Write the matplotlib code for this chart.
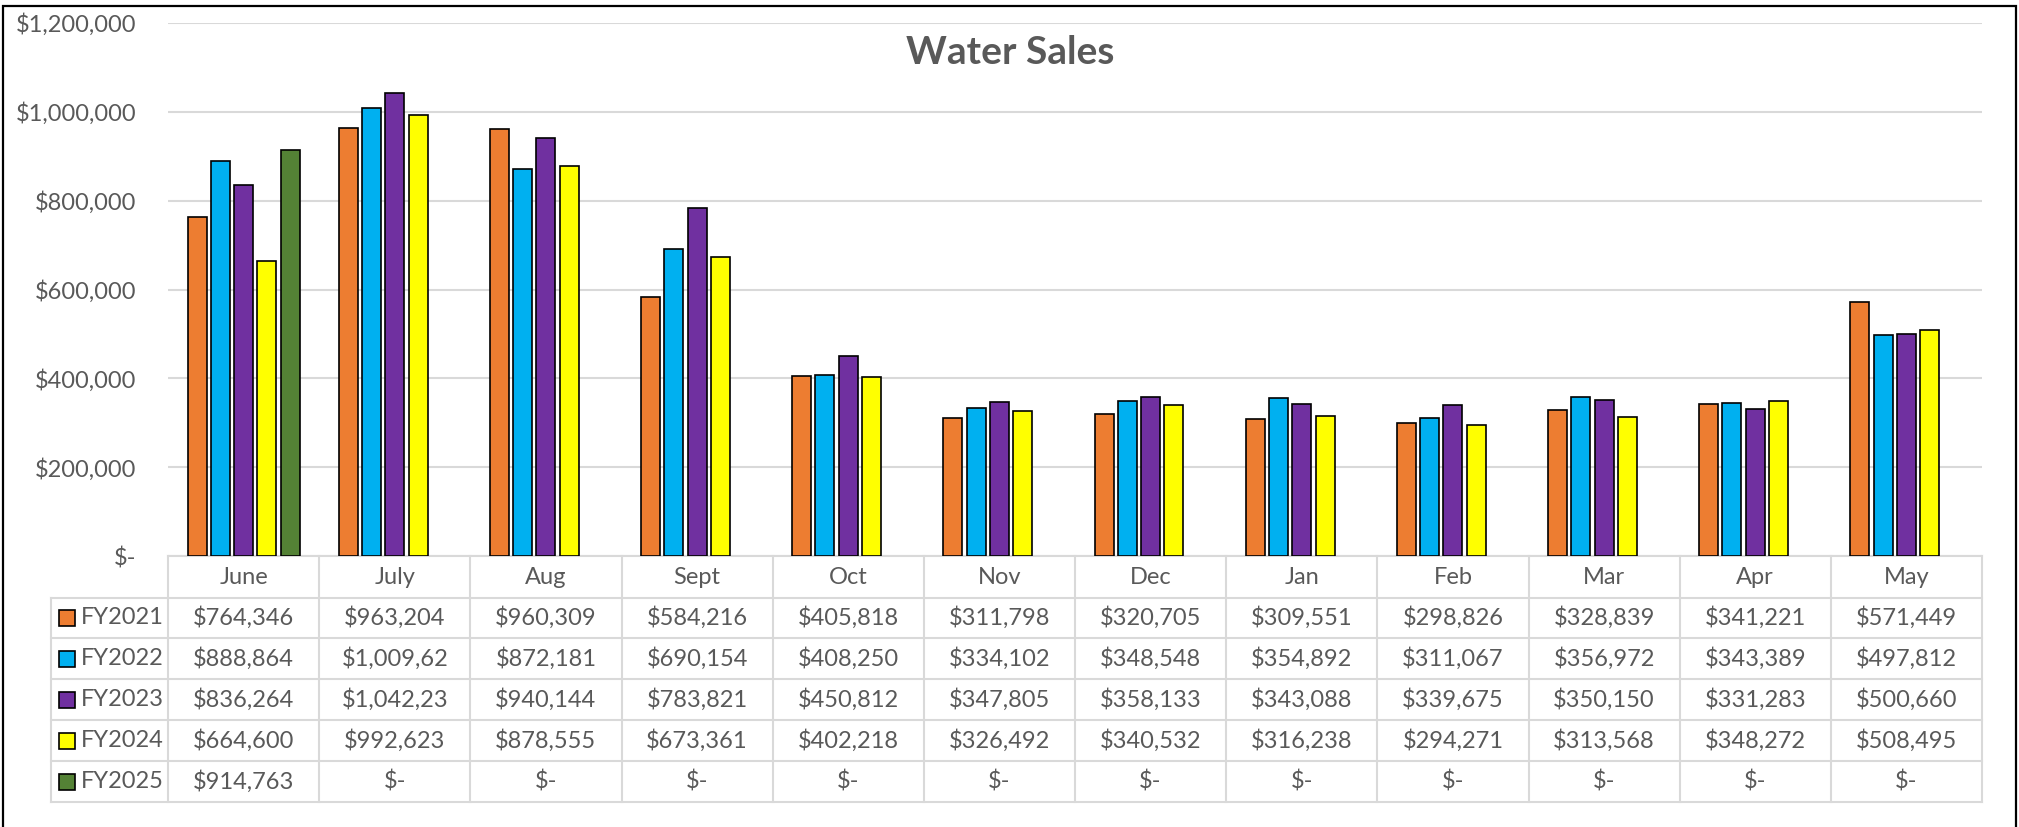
import numpy as np
import matplotlib.pyplot as plt
from matplotlib.patches import Rectangle

plt.rcParams['font.family'] = ['Lato', 'DejaVu Sans']

# data
months = ['June', 'July', 'Aug', 'Sept', 'Oct', 'Nov', 'Dec', 'Jan', 'Feb', 'Mar', 'Apr', 'May']
series = ['FY2021', 'FY2022', 'FY2023', 'FY2024', 'FY2025']
fy2021 = [764346, 963204, 960309, 584216, 405818, 311798, 320705, 309551, 298826, 328839, 341221, 571449]
fy2022 = [888864, 1009620, 872181, 690154, 408250, 334102, 348548, 354892, 311067, 356972, 343389, 497812]
fy2023 = [836264, 1042230, 940144, 783821, 450812, 347805, 358133, 343088, 339675, 350150, 331283, 500660]
fy2024 = [664600, 992623, 878555, 673361, 402218, 326492, 340532, 316238, 294271, 313568, 348272, 508495]
fy2025 = [914763, 0, 0, 0, 0, 0, 0, 0, 0, 0, 0, 0]
colors = ['#ED7D31', '#00B0F0', '#7030A0', '#FFFF00', '#548235']
yticks = [0, 200000, 400000, 600000, 800000, 1000000, 1200000]

data = [fy2021, fy2022, fy2023, fy2024, fy2025]
txt = '#595959'
grid = '#D9D9D9'
fs = 17


def money(v):
    if v == 0:
        return '$-'
    # the Excel cell clips anything wider than 9 characters
    return f'${v:,}'[:9]


W, H = 2019, 827
fig = plt.figure(figsize=(W / 100, H / 100), dpi=100)
# plot area in pixels: x 168..1982, y 23..556
px_l, px_r, px_t, px_b = 168, 1982, 23, 556
ax = fig.add_axes([px_l / W, 1 - px_b / H, (px_r - px_l) / W, (px_b - px_t) / H])

n = len(months)
x = np.arange(n)
slot = 0.154
bw = 0.126
for k, (name, vals) in enumerate(zip(series, data)):
    vals = np.array(vals, dtype=float)
    keep = vals > 0
    ax.bar(x[keep] + (k - 2) * slot, vals[keep], width=bw, color=colors[k],
           edgecolor='black', linewidth=1.2, zorder=3, label=name)

ax.set_xlim(-0.5, n - 0.5)
ax.set_ylim(0, 1200000)
ax.set_yticks(yticks)
ax.set_yticklabels(['$-' if t == 0 else f'${t:,}' for t in yticks])
ax.tick_params(axis='y', length=0, pad=23, labelsize=fs, labelcolor=txt)
ax.set_xticks([])
ax.grid(axis='y', color=grid, linewidth=1.5, zorder=0)
for s in ax.spines.values():
    s.set_visible(False)

# data table under the plot (x in data units, y in axes fraction)
tr = ax.get_xaxis_transform()
plot_h = px_b - px_t


def yax(py):
    return (px_b - py) / plot_h


def xdat(px):
    return (px - px_l) / (px_r - px_l) * n - 0.5


rows = [556, 598, 638, 679, 720, 761, 802]
left = xdat(51)
lkw = dict(color=grid, linewidth=1.5, transform=tr, clip_on=False, zorder=1)
ax.plot([-0.5, n - 0.5], [yax(rows[0])] * 2, **lkw)
for r in rows[1:]:
    ax.plot([left, n - 0.5], [yax(r)] * 2, **lkw)
for b in np.arange(n + 1) - 0.5:
    ax.plot([b, b], [yax(rows[0]), yax(rows[-1])], **lkw)
ax.plot([left, left], [yax(rows[1]), yax(rows[-1])], **lkw)

for i, m in enumerate(months):
    ax.text(i, yax((rows[0] + rows[1]) / 2), m, transform=tr, ha='center', va='center',
            fontsize=fs, color=txt, clip_on=False)

key_px = 16
for k, (name, vals) in enumerate(zip(series, data)):
    yc = (rows[k + 1] + rows[k + 2]) / 2
    fig.patches.append(Rectangle(((67 - key_px / 2) / W, 1 - (yc + key_px / 2) / H),
                                 key_px / W, key_px / H, transform=fig.transFigure,
                                 facecolor=colors[k], edgecolor='black', linewidth=1.2))
    fig.text(81 / W, 1 - yc / H, name, ha='left', va='center', fontsize=fs, color=txt)
    for i, v in enumerate(vals):
        ax.text(i, yax(yc), money(v), transform=tr, ha='center', va='center',
                fontsize=fs, color=txt, clip_on=False)

fig.text(1010 / W, 1 - 52 / H, 'Water Sales', ha='center', va='center',
         fontsize=28, fontweight='bold', color=txt)

# chart border (bottom edge runs off the image)
fig.patches.append(Rectangle((3 / W, -0.01), (2016 - 3) / W, 1.01 - 6 / H,
                             transform=fig.transFigure, fill=False,
                             edgecolor='black', linewidth=1.6))

fig.savefig('out.png', dpi=100)
